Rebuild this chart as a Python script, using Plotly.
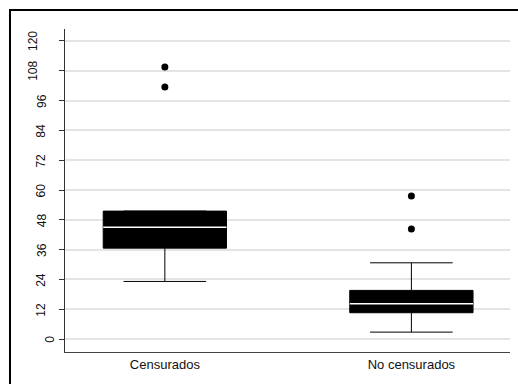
import plotly.graph_objects as go

categories = ["Censurados", "No censurados"]
q1 = [36.6, 10.6]
median = [45.0, 14.2]
q3 = [51.5, 19.6]
lowerfence = [23.2, 2.8]
upperfence = [51.5, 30.7]
outlier_cat = [0, 0, 1, 1]
outlier_val = [109.5, 101.5, 57.6, 44.3]
yticks = [0, 12, 24, 36, 48, 60, 72, 84, 96, 108, 120]

FONT = "Liberation Sans, Arial, sans-serif"
BOX_W = 0.5
fig = go.Figure()
for i, c in enumerate(categories):
    fig.add_trace(go.Box(
        x=[i], q1=[q1[i]], median=[median[i]], q3=[q3[i]],
        lowerfence=[lowerfence[i]], upperfence=[upperfence[i]],
        width=BOX_W, whiskerwidth=0.67, fillcolor="black",
        line=dict(color="black", width=1), boxpoints=False,
        showlegend=False, name=c, hoverinfo="skip"))
    fig.add_shape(type="line", xref="x", yref="y",
                  x0=i - BOX_W / 2, x1=i + BOX_W / 2, y0=median[i], y1=median[i],
                  line=dict(color="white", width=1.5))

fig.add_trace(go.Scatter(x=outlier_cat, y=outlier_val, mode="markers",
                         marker=dict(color="black", size=7), showlegend=False,
                         hoverinfo="skip"))

# y tick labels (rotated, offset by label length as in the original)
for v in yticks:
    s = str(v)
    fig.add_annotation(xref="paper", yref="y", x=0, y=v, text=s,
                       textangle=-90, showarrow=False, xanchor="center",
                       yanchor="middle", xshift=-7 - 8.3 * len(s),
                       font=dict(family=FONT, size=12, color="#111"))

# outer frame
fig.add_shape(type="rect", xref="paper", yref="paper",
              x0=-0.1236, x1=1.3, y0=-0.5, y1=1.0588,
              line=dict(color="black", width=2), layer="above")

fig.update_layout(
    width=518, height=384,
    margin=dict(l=65, r=8, t=29, b=32),
    paper_bgcolor="white", plot_bgcolor="white",
    font=dict(family=FONT, size=13, color="#111"),
    xaxis=dict(range=[-0.405, 1.4], tickvals=[0, 1], ticktext=categories,
               showgrid=False, zeroline=False, showline=True, linecolor="#444",
               linewidth=1, ticks="", tickfont=dict(size=13), fixedrange=True),
    yaxis=dict(range=[-5.2, 124.8], tickvals=yticks, showticklabels=False,
               showgrid=True, gridcolor="#e4e4e4", gridwidth=1.5, zeroline=False,
               showline=True, linecolor="#333", linewidth=1,
               ticks="outside", ticklen=5, tickcolor="#333"),
)
fig.write_html("out.html")
